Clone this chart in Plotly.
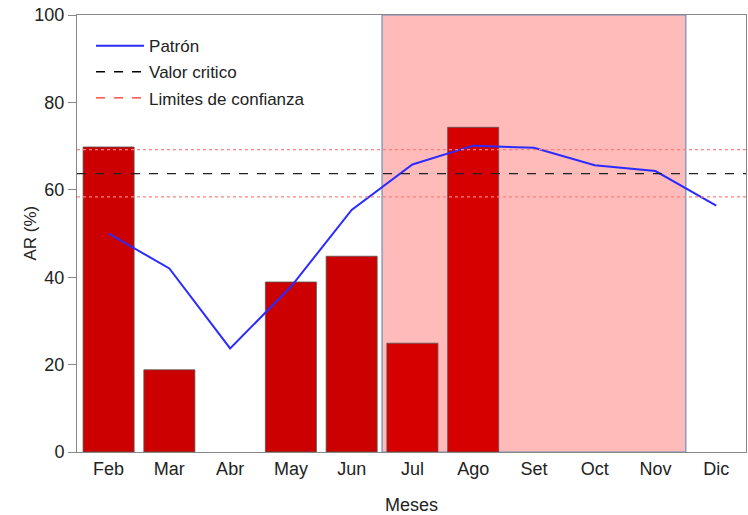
import plotly.graph_objects as go

meses = ["Feb", "Mar", "Abr", "May", "Jun", "Jul", "Ago", "Set", "Oct", "Nov", "Dic"]
ar_barras = [69.8, 18.8, 0, 38.9, 44.8, 24.9, 74.3, 0, 0, 0, 0]
patron = [50.0, 42.0, 23.7, 37.8, 55.4, 65.8, 70.1, 69.6, 65.6, 64.3, 56.4]
valor_critico = 63.7
limite_sup = 69.2
limite_inf = 58.4
y_ticks = [0, 20, 40, 60, 80, 100]
periodo_inicio = "Jul"
periodo_fin = "Nov"

bar_colors = ["#cc0000" if i < meses.index(periodo_inicio) else "#d60000" for i in range(len(meses))]
bar_lines = [0.8 if v > 0 else 0 for v in ar_barras]

fig = go.Figure()
fig.add_trace(go.Bar(
    x=meses, y=ar_barras, marker=dict(color=bar_colors, line=dict(color="#555555", width=bar_lines)),
    width=0.84, showlegend=False, hoverinfo="skip"))
fig.add_trace(go.Scatter(
    x=meses, y=patron, mode="lines", name="Patrón",
    line=dict(color="#2b2bff", width=2), legendgroup="a"))
fig.add_trace(go.Scatter(
    x=[None], y=[None], mode="lines", name="Valor critico",
    line=dict(color="black", width=1.3, dash="dash"), legendgroup="b"))
fig.add_trace(go.Scatter(
    x=[None], y=[None], mode="lines", name="Limites de confianza",
    line=dict(color="#ff2a2a", width=1.3, dash="dash"), legendgroup="c"))

i0 = meses.index(periodo_inicio) - 0.5
i1 = meses.index(periodo_fin) + 0.5
fig.add_shape(type="rect", xref="x", yref="y", x0=i0, x1=i1, y0=y_ticks[0], y1=y_ticks[-1],
              fillcolor="#ffbaba", line=dict(color="#6a8fc0", width=1.2), layer="below")
for yv in (limite_sup, limite_inf):
    fig.add_shape(type="line", xref="paper", yref="y", x0=0, x1=1, y0=yv, y1=yv,
                  line=dict(color="#ff8080", width=1.2, dash="dot"))
fig.add_shape(type="line", xref="paper", yref="y", x0=0, x1=1, y0=valor_critico, y1=valor_critico,
              line=dict(color="#222222", width=1.3, dash="dash"))

fig.add_annotation(text="AR (%)", xref="paper", yref="paper", x=0, y=0.5, xanchor="center",
                   yanchor="middle", xshift=-47, textangle=-90, showarrow=False,
                   font=dict(size=17))
fig.add_annotation(text="Meses", xref="paper", yref="paper", x=0.5, y=0, xanchor="center",
                   yanchor="middle", yshift=-53, showarrow=False, font=dict(size=18))

fig.update_layout(
    width=748, height=515,
    margin=dict(l=77, r=2, t=15, b=63, autoexpand=False),
    plot_bgcolor="white", paper_bgcolor="white",
    font=dict(family="Liberation Sans, Arial, sans-serif", size=18, color="#222222"),
    bargap=0.16,
    legend=dict(x=0.021, y=0.97, xanchor="left", yanchor="top", bgcolor="rgba(0,0,0,0)",
                font=dict(size=17), tracegroupgap=1, itemwidth=48),
    xaxis=dict(range=[-0.52, 10.49], showline=True, linecolor="#888888", mirror=True,
               ticks="", showgrid=False, automargin=False),
    yaxis=dict(range=[0, 100], tickvals=y_ticks, showline=True, linecolor="#888888", mirror=True,
               ticks="outside", ticklen=8, tickcolor="#888888", showgrid=False, zeroline=False,
               automargin=False),
)
fig.write_html("out.html", config={"displayModeBar": False},
               post_script="document.body.style.margin='0';")
